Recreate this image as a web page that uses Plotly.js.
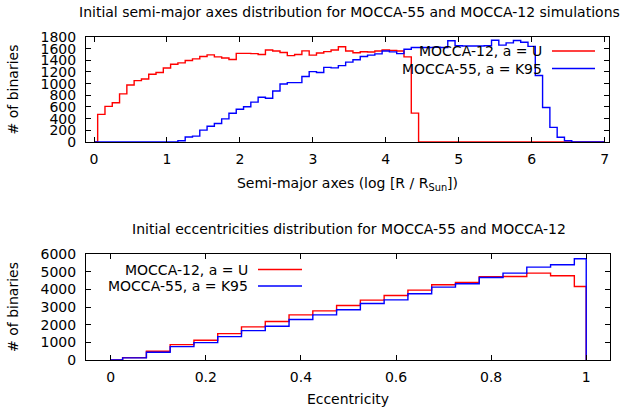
<!DOCTYPE html>
<html>
<head>
<meta charset="utf-8">
<script src="https://cdn.plot.ly/plotly-3.0.1.min.js"></script>
<style>html,body{margin:0;padding:0;background:#fff;}#chart{width:624px;height:413px;}</style>
</head>
<body>
<div id="chart"></div>
<script>
// ---- Semi-major axes histogram (bin centres, log R/Rsun) ----
const semiBins = [0.0,0.1,0.2,0.3,0.4,0.5,0.6,0.7,0.8,0.9,1.0,1.1,1.2,1.3,1.4,1.5,1.6,1.7,1.8,1.9,
  2.0,2.1,2.2,2.3,2.4,2.5,2.6,2.7,2.8,2.9,3.0,3.1,3.2,3.3,3.4,3.5,3.6,3.7,3.8,3.9,
  4.0,4.1,4.2,4.3,4.4,4.5,4.6,4.7,4.8,4.9,5.0,5.1,5.2,5.3,5.4,5.5,5.6,5.7,5.8,5.9,
  6.0,6.1,6.2,6.3,6.4,6.5,6.6,6.7,6.8,6.9,7.0];
const semiMocca12 = [0,474,611,672,825,978,1052,1080,1162,1190,1268,1333,1357,1396,1425,1465,1494,1460,1440,1413,
  1520,1520,1515,1500,1578,1560,1535,1480,1500,1562,1490,1525,1550,1577,1634,1560,1531,1548,1543,1560,
  1577,1571,1560,1460,495,0,0,0,0,0,0,0,0,0,0,0,0,0,0,0,
  0,0,0,0,0,0,0,0,0,0,0];
const semiMocca55 = [0,0,0,0,0,0,0,0,0,0,0,0,20,85,100,203,270,318,396,492,
  561,604,684,767,750,873,993,1018,1018,1122,1207,1191,1280,1270,1310,1370,1410,1465,1490,1510,
  1560,1545,1515,1590,1620,1620,1620,1625,1620,1735,1650,1645,1645,1645,1650,1745,1660,1700,1740,1710,
  1640,1140,590,250,80,22,0,0,0,0,0];
const semiTicks = [0,1,2,3,4,5,6,7];
const semiYTicks = [0,200,400,600,800,1000,1200,1400,1600,1800];

// ---- Eccentricity histogram (bin centres) ----
const eccBins = [0.0,0.05,0.1,0.15,0.2,0.25,0.3,0.35,0.4,0.45,0.5,0.55,0.6,0.65,0.7,0.75,0.8,0.85,0.9,0.95,1.0,1.0];
const eccMocca12 = [0,135,492,871,1117,1495,1874,2177,2556,2783,3086,3389,3653,3956,4259,4392,4714,4733,4922,4770,4165,0];
const eccMocca55 = [0,120,435,757,984,1325,1666,1912,2290,2556,2850,3199,3407,3748,4127,4316,4676,4922,5262,5395,5736,0];
const eccTicks = [0,0.2,0.4,0.6,0.8,1];
const eccYTicks = [0,1000,2000,3000,4000,5000,6000];

const seriesNames = ['MOCCA-12, a = U', 'MOCCA-55, a = K95'];
const seriesColors = ['#ff0000', '#0000ff'];

const FONT = 'DejaVu Sans, sans-serif';
const FS = 14;

function step(x, y, i, xa, ya) {
  return {x: x, y: y, xaxis: xa, yaxis: ya, type: 'scatter', mode: 'lines',
    line: {shape: 'hvh', color: seriesColors[i], width: 1.4}, name: seriesNames[i],
    showlegend: false, hoverinfo: 'skip'};
}

const data = [
  step(semiBins, semiMocca12, 0, 'x', 'y'),
  step(semiBins, semiMocca55, 1, 'x', 'y'),
  step(eccBins, eccMocca12, 0, 'x2', 'y2'),
  step(eccBins, eccMocca55, 1, 'x2', 'y2')
];

const axBase = {showline: true, mirror: 'ticks', linecolor: '#000', linewidth: 1,
  ticks: 'inside', ticklen: 5, tickcolor: '#000', tickwidth: 1,
  showgrid: false, zeroline: false, tickfont: {family: FONT, size: FS, color: '#000'}};

function px(xp) { return (xp - 86) / 524; }
function py(yp) { return (360 - yp) / 323; }

const layout = {
  width: 624, height: 413,
  margin: {l: 86, r: 14, t: 37, b: 53},
  paper_bgcolor: '#fff', plot_bgcolor: '#fff',
  font: {family: FONT, size: FS, color: '#000'},
  showlegend: false,
  xaxis: Object.assign({}, axBase, {domain: [0, 0.998], range: [-0.11, 7.06], anchor: 'y',
    tickvals: semiTicks, ticktext: semiTicks.map(String), ticklabelstandoff: 4,
    title: {text: 'Semi-major axes (log [R / R<sub>Sun</sub>])', font: {family: FONT, size: FS}, standoff: 12}}),
  yaxis: Object.assign({}, axBase, {domain: [0.675, 1], range: [0, 1800], anchor: 'x',
    tickvals: semiYTicks, ticktext: semiYTicks.map(String), ticklabelstandoff: 6,
    title: {text: '# of binaries', font: {family: FONT, size: FS}, standoff: 18}}),
  xaxis2: Object.assign({}, axBase, {domain: [0, 1], range: [-0.052, 1.05], anchor: 'y2',
    tickvals: eccTicks, ticktext: eccTicks.map(String), ticklabelstandoff: 4,
    title: {text: 'Eccentricity', font: {family: FONT, size: FS}, standoff: 10}}),
  yaxis2: Object.assign({}, axBase, {domain: [0, 0.328], range: [0, 6000], anchor: 'x2',
    tickvals: eccYTicks, ticktext: eccYTicks.map(String), ticklabelstandoff: 6,
    title: {text: '# of binaries', font: {family: FONT, size: FS}, standoff: 18}}),
  annotations: [
    {text: 'Initial semi-major axes distribution for MOCCA-55 and MOCCA-12 simulations',
     xref: 'paper', yref: 'paper', x: px(349), y: py(12), xanchor: 'center', yanchor: 'middle',
     showarrow: false, font: {family: FONT, size: FS}},
    {text: 'Initial eccentricities distribution for MOCCA-55 and MOCCA-12',
     xref: 'paper', yref: 'paper', x: px(349), y: py(229), xanchor: 'center', yanchor: 'middle',
     showarrow: false, font: {family: FONT, size: FS}},
    // legends (gnuplot style: text then sample)
    {text: seriesNames[0], xref: 'paper', yref: 'paper', x: px(544), y: py(51),
     xanchor: 'right', yanchor: 'middle', showarrow: false, font: {family: FONT, size: FS}},
    {text: seriesNames[1], xref: 'paper', yref: 'paper', x: px(544), y: py(68.5),
     xanchor: 'right', yanchor: 'middle', showarrow: false, font: {family: FONT, size: FS}},
    {text: seriesNames[0], xref: 'paper', yref: 'paper', x: px(250), y: py(269.5),
     xanchor: 'right', yanchor: 'middle', showarrow: false, font: {family: FONT, size: FS}},
    {text: seriesNames[1], xref: 'paper', yref: 'paper', x: px(250), y: py(286),
     xanchor: 'right', yanchor: 'middle', showarrow: false, font: {family: FONT, size: FS}}
  ],
  shapes: [
    {type: 'line', xref: 'paper', yref: 'paper', x0: px(552), x1: px(595),
     y0: py(51), y1: py(51), line: {color: seriesColors[0], width: 1.4}},
    {type: 'line', xref: 'paper', yref: 'paper', x0: px(552), x1: px(595),
     y0: py(68.5), y1: py(68.5), line: {color: seriesColors[1], width: 1.4}},
    {type: 'line', xref: 'paper', yref: 'paper', x0: px(258), x1: px(302),
     y0: py(269.5), y1: py(269.5), line: {color: seriesColors[0], width: 1.4}},
    {type: 'line', xref: 'paper', yref: 'paper', x0: px(258), x1: px(302),
     y0: py(286), y1: py(286), line: {color: seriesColors[1], width: 1.4}}
  ]
};

Plotly.newPlot('chart', data, layout, {staticPlot: true, displayModeBar: false});
</script>
</body>
</html>
